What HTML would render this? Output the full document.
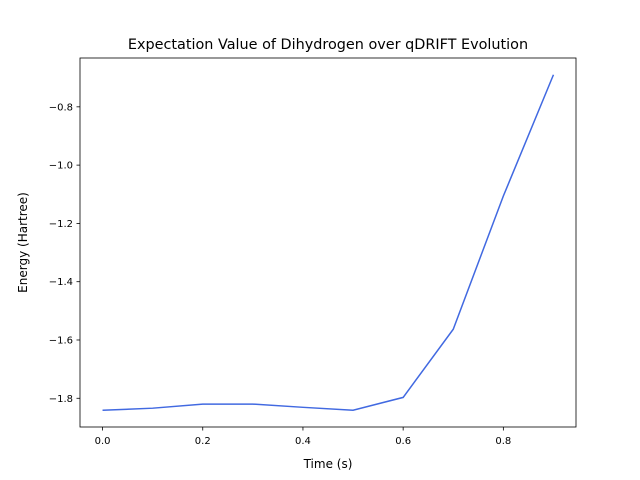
<!DOCTYPE html>
<html><head><meta charset="utf-8"><style>body{margin:0;background:#fff}svg{display:block;font-family:"DejaVu Sans","Liberation Sans",sans-serif}</style></head>
<body>
<svg id="chart" width="640" height="480">
<rect width="640" height="480" fill="#fff"/>
<text x="328" y="49" text-anchor="middle" font-size="14.4">Expectation Value of Dihydrogen over qDRIFT Evolution</text>
<g id="ticks"></g>
<path id="line" fill="none" stroke="#4169e1" stroke-width="1.5"/>
<rect x="80" y="58" width="496" height="369" fill="none" stroke="#000" stroke-width="0.8"/>
<text x="328" y="468" text-anchor="middle" font-size="12">Time (s)</text>
<text transform="translate(27,242.5) rotate(-90)" text-anchor="middle" font-size="12">Energy (Hartree)</text>
</svg>
<script>
const times=[0,0.1,0.2,0.3,0.4,0.5,0.6,0.7,0.8,0.9];
const energies=[-1.841,-1.834,-1.82,-1.82,-1.831,-1.841,-1.797,-1.563,-1.106,-0.690];
const xTicks=[0,0.2,0.4,0.6,0.8];
const xTickLabels=["0.0","0.2","0.4","0.6","0.8"];
const yTicks=[-1.8,-1.6,-1.4,-1.2,-1.0,-0.8];
const yTickLabels=["−1.8","−1.6","−1.4","−1.2","−1.0","−0.8"];
const L=80,R=576,T=58,B=427;
const xmin=Math.min(...times),xmax=Math.max(...times),xm=(xmax-xmin)*0.05;
const ymin=Math.min(...energies),ymax=Math.max(...energies),ym=(ymax-ymin)*0.05;
const X=v=>L+(v-(xmin-xm))/((xmax+xm)-(xmin-xm))*(R-L);
const Y=v=>B-(v-(ymin-ym))/((ymax+ym)-(ymin-ym))*(B-T);
const NS="http://www.w3.org/2000/svg";
const g=document.getElementById('ticks');
function mk(t,a){const e=document.createElementNS(NS,t);for(const k in a)e.setAttribute(k,a[k]);g.appendChild(e);return e;}
xTicks.forEach((v,i)=>{
 const l=mk('line',{x1:X(v),x2:X(v),y1:B,y2:B+3.5,stroke:'#000','stroke-width':0.8});
 
 
 const t=mk('text',{x:X(v),y:B+17,'text-anchor':'middle','font-size':10});
 t.textContent=xTickLabels[i];
 
 
});
yTicks.forEach((v,i)=>{
 const l=mk('line',{x1:L-3.5,x2:L,y1:Y(v),y2:Y(v),stroke:'#000','stroke-width':0.8});
 
 
 const t=mk('text',{x:L-7,y:Y(v)+3.5,'text-anchor':'end','font-size':10});
 t.textContent=yTickLabels[i];
 
 
});
document.getElementById('line').setAttribute('d',times.map((t,i)=>(i?'L':'M')+X(t)+','+Y(energies[i])).join(''));
</script>
</body></html>
